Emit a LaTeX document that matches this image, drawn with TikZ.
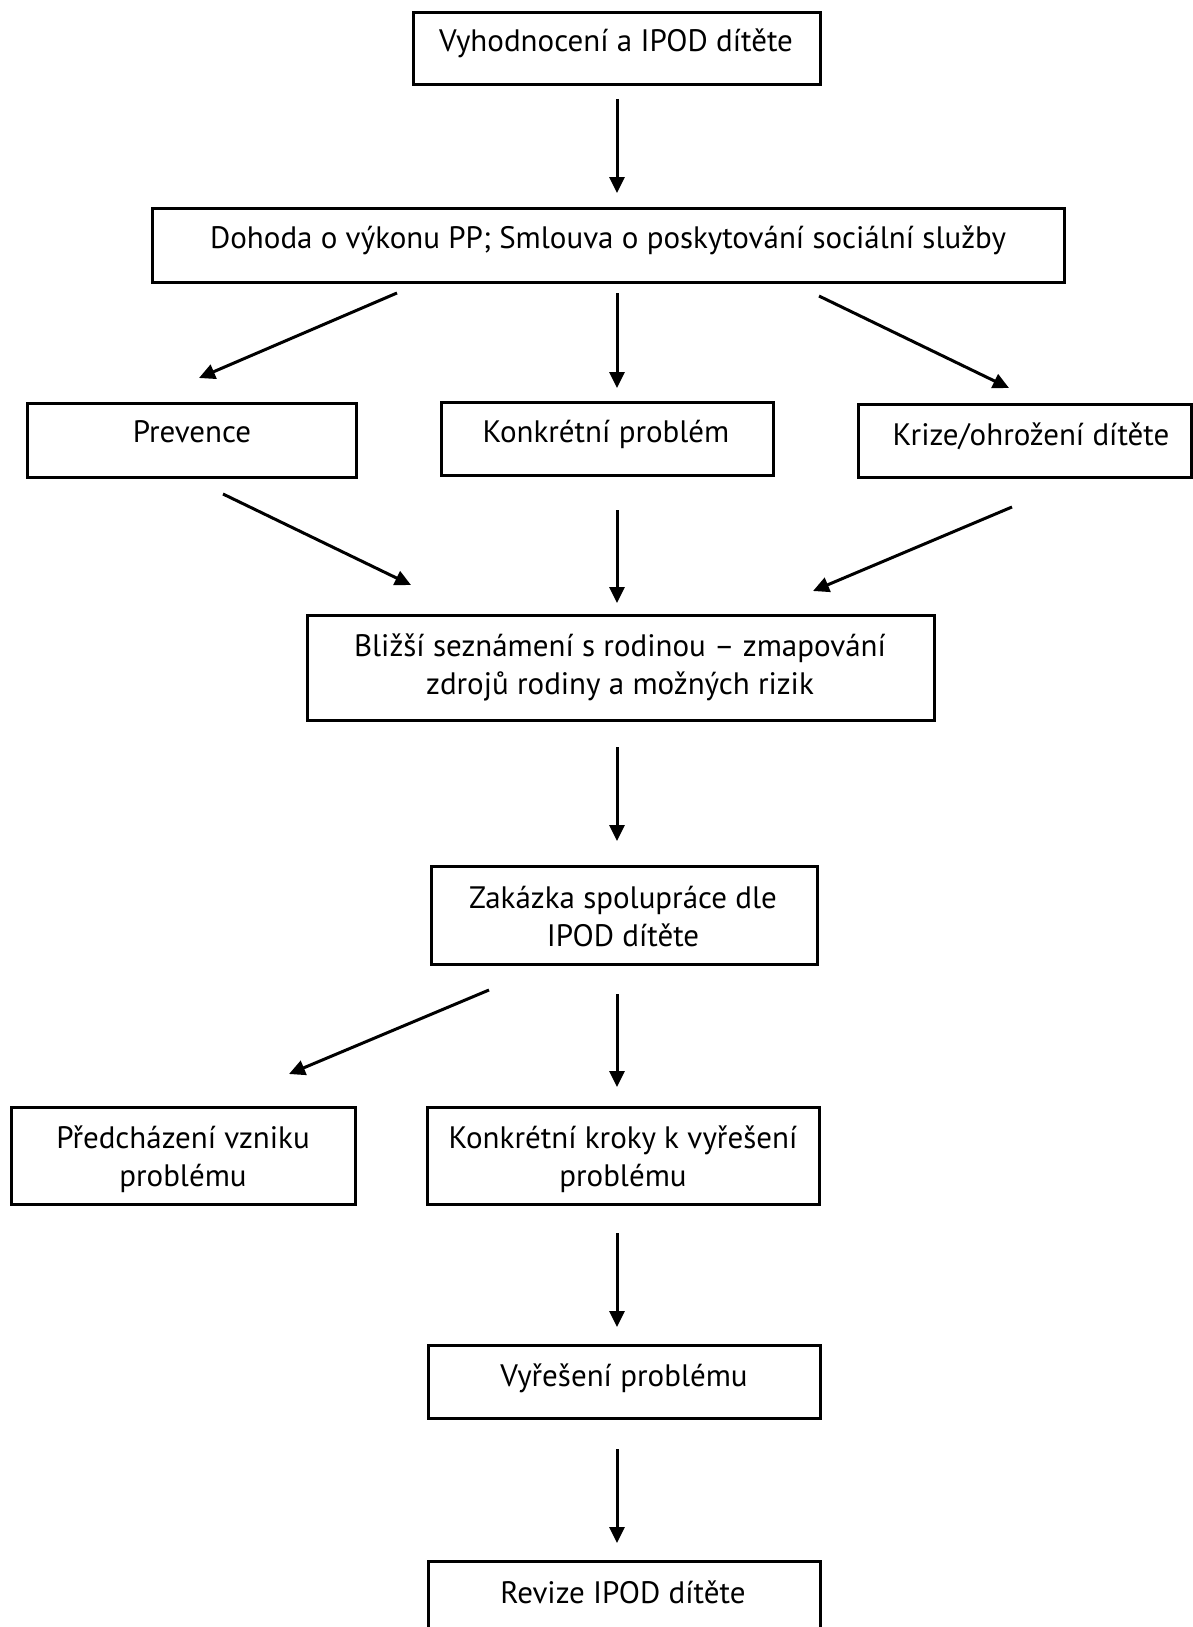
\documentclass[tikz,border=0pt]{standalone}
\usepackage{fontspec}
\setmainfont{PT Sans}
\usetikzlibrary{arrows.meta}
\begin{document}
\begin{tikzpicture}[x=1pt,y=-1pt,
  box/.style={draw=black,line width=3pt,inner sep=0pt,outer sep=0pt},
  txt/.style={font=\fontsize{31}{37.5}\selectfont,inner sep=0pt,align=center,anchor=base},
  arr/.style={line width=3pt,-{Triangle[length=16pt,width=15pt]}}]
\useasboundingbox (0,0) rectangle (1193,1627);
% boxes
\newcommand{\mkbox}[5]{\node[box,minimum width={#4-#2},minimum height={#5-#3}] (#1) at ({(#2+#4)/2},{(#3+#5)/2}) {};}
\mkbox{b1}{413}{13}{820}{85}
\mkbox{b2}{152}{208}{1064}{282}
\mkbox{b3}{27}{403}{356}{477}
\mkbox{b4}{441}{402}{773}{475}
\mkbox{b5}{858}{404}{1191}{477}
\mkbox{b6}{307}{615}{934}{720}
\mkbox{b7}{431}{866}{817}{964}
\mkbox{b8}{11}{1107}{355}{1204}
\mkbox{b9}{427}{1107}{819}{1204}
\mkbox{b10}{428}{1345}{820}{1418}
\mkbox{b11}{428}{1561}{820}{1660}
% texts (base anchor = baseline of the last line)
\node[txt] (t1) at (616,52) {Vyhodnocení a IPOD dítěte};
\node[txt] (t2) at (608,248) {Dohoda o výkonu PP; Smlouva o poskytování sociální služby};
\node[txt] (t3) at (192,442) {Prevence};
\node[txt] (t4) at (606,442) {Konkrétní problém};
\node[txt] (t5) at (1031,445) {Krize/ohrožení dítěte};
\node[txt] (t6) at (620,694) {Bližší seznámení s rodinou – zmapování\\zdrojů rodiny a možných rizik};
\node[txt] (t7) at (623,946) {Zakázka spolupráce dle\\IPOD dítěte};
\node[txt] (t8) at (183,1186) {Předcházení vzniku\\problému};
\node[txt] (t9) at (623,1186) {Konkrétní kroky k vyřešení\\problému};
\node[txt] (t10) at (624,1386) {Vyřešení problému};
\node[txt] (t11) at (623,1603) {Revize IPOD dítěte};
% arrow end points
\coordinate (a1s) at (617,99);   \coordinate (a1e) at (617,193);
\coordinate (a2s) at (397,293);  \coordinate (a2e) at (199,378);
\coordinate (a3s) at (617,293);  \coordinate (a3e) at (617,388);
\coordinate (a4s) at (819,296);  \coordinate (a4e) at (1009,388);
\coordinate (a5s) at (223,494);  \coordinate (a5e) at (411,585);
\coordinate (a6s) at (617,510);  \coordinate (a6e) at (617,603);
\coordinate (a7s) at (1012,507); \coordinate (a7e) at (813,591);
\coordinate (a8s) at (617,747);  \coordinate (a8e) at (617,841);
\coordinate (a9s) at (489,990);  \coordinate (a9e) at (289,1074);
\coordinate (a10s) at (617,994); \coordinate (a10e) at (617,1087);
\coordinate (a11s) at (617,1233); \coordinate (a11e) at (617,1327);
\coordinate (a12s) at (617,1449); \coordinate (a12e) at (617,1543);
\foreach \i in {1,...,12} {\draw[arr] (a\i s) -- (a\i e);}
\end{tikzpicture}
\end{document}
